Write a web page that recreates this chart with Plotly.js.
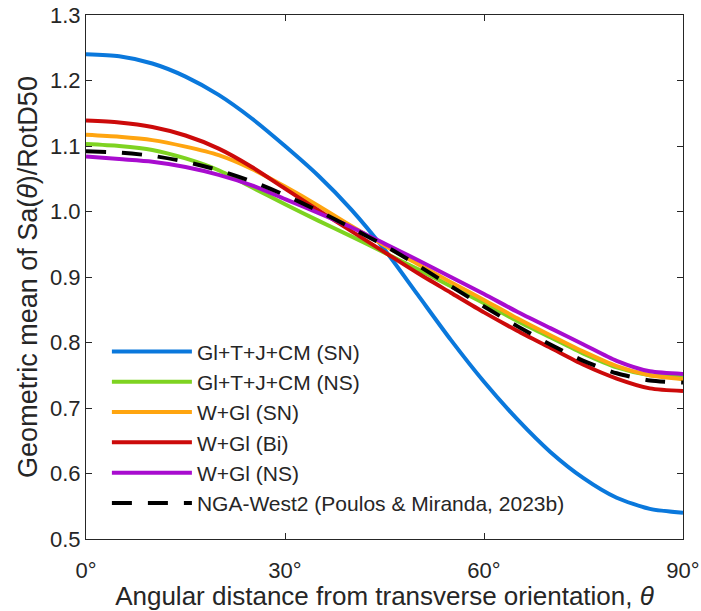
<!DOCTYPE html>
<html>
<head>
<meta charset="utf-8">
<script src="https://cdn.plot.ly/plotly-3.0.1.min.js"></script>
<style>html,body{margin:0;padding:0;background:#fff;}#chart{width:701px;height:611px;}</style>
</head>
<body>
<div id="chart"></div>
<script>
// Angular distance from transverse orientation (degrees)
const theta = [0,5,10,15,20,25,30,35,40,45,50,55,60,65,70,75,80,85,90];

// Geometric mean of Sa(theta)/RotD50
const glTJcmSN = [1.240,1.237,1.226,1.206,1.178,1.142,1.100,1.055,1.003,0.942,0.873,0.804,0.740,0.683,0.633,0.593,0.563,0.546,0.540];
const glTJcmNS = [1.103,1.100,1.094,1.081,1.063,1.037,1.011,0.986,0.962,0.937,0.912,0.886,0.860,0.833,0.808,0.783,0.762,0.750,0.747];
const wGlSN    = [1.117,1.114,1.109,1.099,1.086,1.065,1.038,1.009,0.978,0.948,0.920,0.892,0.865,0.837,0.811,0.786,0.764,0.750,0.744];
const wGlBi    = [1.139,1.136,1.129,1.116,1.096,1.068,1.035,1.002,0.970,0.938,0.906,0.876,0.846,0.818,0.792,0.766,0.745,0.730,0.726];
const wGlNS    = [1.084,1.080,1.076,1.068,1.056,1.040,1.019,0.998,0.976,0.951,0.926,0.900,0.874,0.847,0.822,0.797,0.772,0.756,0.752];
const ngaWest2 = [1.092,1.090,1.085,1.076,1.063,1.046,1.025,1.001,0.975,0.948,0.918,0.886,0.855,0.825,0.797,0.772,0.753,0.742,0.739];

const names = ['Gl+T+J+CM (SN)','Gl+T+J+CM (NS)','W+Gl (SN)','W+Gl (Bi)','W+Gl (NS)','NGA-West2 (Poulos &amp; Miranda, 2023b)'];
const series = [glTJcmSN, glTJcmNS, wGlSN, wGlBi, wGlNS, ngaWest2];
const colors = ['#0a78dc','#7ed321','#ffa510','#cc0a0a','#a80ccf','#000000'];
const dashes = ['solid','solid','solid','solid','solid','20px,16px'];

const xTickVals = [0,30,60,90];
const xTickText = ['0°','30°','60°','90°'];
const yTickVals = [0.5,0.6,0.7,0.8,0.9,1.0,1.1,1.2,1.3];
const yTickText = ['0.5','0.6','0.7','0.8','0.9','1.0','1.1','1.2','1.3'];

const traces = series.map((s,i)=>({
  x: theta, y: s, type:'scatter', mode:'lines', name: names[i],
  line: {color: colors[i], width: 4, dash: dashes[i], shape:'spline', smoothing: 0.7}
}));

const fontFam = '"Liberation Sans", Arial, Helvetica, sans-serif';
const axisCol = '#262626';

const layout = {
  width: 701, height: 611,
  margin: {l: 86, r: 18, t: 15, b: 72},
  paper_bgcolor: '#fff', plot_bgcolor: '#fff',
  font: {family: fontFam, size: 21, color: axisCol},
  showlegend: true,
  legend: {x: 0.035, y: 0.03, xanchor: 'left', yanchor: 'bottom',
           bgcolor: 'rgba(0,0,0,0)', borderwidth: 0, itemwidth: 80,
           font: {family: fontFam, size: 21, color: axisCol}, tracegroupgap: 0},
  xaxis: {range: [0, 90], tickvals: xTickVals, ticktext: xTickText,
          ticks: 'inside', ticklen: 6, tickcolor: axisCol, showgrid: false, zeroline: false,
          showline: true, linecolor: axisCol, linewidth: 1, mirror: 'ticks',
          ticklabelstandoff: 12,
          tickfont: {size: 22, color: axisCol},
          title: {text: 'Angular distance from transverse orientation, <i>θ</i>', font: {size: 26, color: axisCol}, standoff: 2}},
  yaxis: {range: [0.5, 1.3], tickvals: yTickVals, ticktext: yTickText,
          ticks: 'inside', ticklen: 6, tickcolor: axisCol, showgrid: false, zeroline: false,
          showline: true, linecolor: axisCol, linewidth: 1, mirror: 'ticks',
          tickfont: {size: 22, color: axisCol},
          title: {text: 'Geometric mean of Sa(<i>θ</i>)/RotD50', font: {size: 27, color: axisCol}, standoff: 4}}
};

Plotly.newPlot('chart', traces, layout, {displayModeBar: false, staticPlot: true});
</script>
</body>
</html>
